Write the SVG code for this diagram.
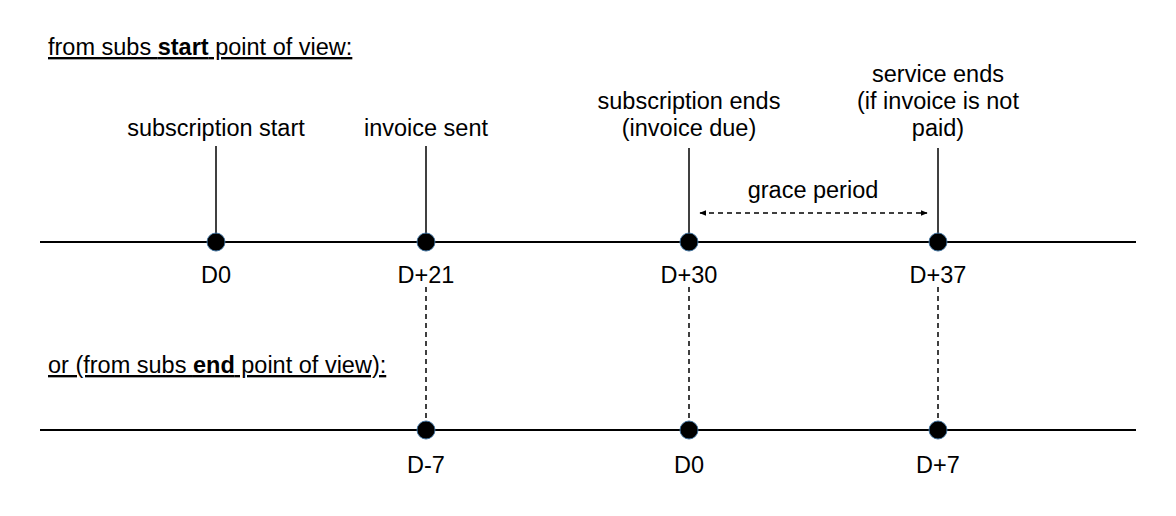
<svg xmlns="http://www.w3.org/2000/svg" width="1176" height="516" viewBox="0 0 1176 516">
<defs>
<style>
text{font-family:"Liberation Sans",Arial,sans-serif;font-size:23.5px;fill:#000}
.c{text-anchor:middle}
.u{text-decoration:underline}
.b{font-weight:bold}
.ln{stroke:#000;stroke-width:2;fill:none}
.tick{stroke:#000;stroke-width:1.5;fill:none}
.dash{stroke:#000;stroke-width:1.5;fill:none;stroke-dasharray:5 4}
.dot{fill:#000;stroke:#41719C;stroke-width:1}
</style>
<marker id="ah" viewBox="0 0 10 10" refX="9" refY="5" markerWidth="7" markerHeight="7" orient="auto-start-reverse" markerUnits="userSpaceOnUse">
<path d="M0,1 L10,5 L0,9 Z" fill="#000"/>
</marker>
</defs>
<rect width="1176" height="516" fill="#fff"/>
<text x="48" y="55" class="u">from subs <tspan class="b">start</tspan> point of view:</text>
<text x="48" y="373" class="u">or (from subs <tspan class="b">end</tspan> point of view):</text>
<g id="connectors">
<line class="ln" x1="40" y1="242" x2="1136" y2="242"/>
<line class="ln" x1="40" y1="430" x2="1136" y2="430"/>
<line class="tick" x1="216" y1="146" x2="216" y2="242"/>
<line class="tick" x1="426" y1="146" x2="426" y2="242"/>
<line class="tick" x1="689" y1="148" x2="689" y2="242"/>
<line class="tick" x1="938" y1="148" x2="938" y2="242"/>
<line class="dash" x1="426" y1="287" x2="426" y2="430"/>
<line class="dash" x1="689" y1="287" x2="689" y2="430"/>
<line class="dash" x1="938" y1="287" x2="938" y2="430"/>
<line class="dash" x1="700" y1="213" x2="927" y2="213" marker-start="url(#ah)" marker-end="url(#ah)"/>
</g>
<g id="grace"><text x="813" y="198" class="c">grace period</text></g>
<g id="d0"><circle class="dot" cx="216" cy="242" r="9"/><text x="216" y="136" class="c">subscription start</text><text x="216" y="283" class="c">D0</text></g>
<g id="d21"><circle class="dot" cx="426" cy="242" r="9"/><text x="426" y="136" class="c">invoice sent</text><text x="426" y="283" class="c">D+21</text></g>
<g id="d30"><circle class="dot" cx="689" cy="242" r="9"/><text x="689" y="109" class="c">subscription ends</text><text x="689" y="136" class="c">(invoice due)</text><text x="689" y="283" class="c">D+30</text></g>
<g id="d37"><circle class="dot" cx="938" cy="242" r="9"/><text x="938" y="82" class="c">service ends</text><text x="938" y="109" class="c">(if invoice is not</text><text x="938" y="136" class="c">paid)</text><text x="938" y="283" class="c">D+37</text></g>
<g id="e7m"><circle class="dot" cx="426" cy="430" r="9"/><text x="426" y="473" class="c">D-7</text></g>
<g id="e0"><circle class="dot" cx="689" cy="430" r="9"/><text x="689" y="473" class="c">D0</text></g>
<g id="e7p"><circle class="dot" cx="938" cy="430" r="9"/><text x="938" y="473" class="c">D+7</text></g>
</svg>
